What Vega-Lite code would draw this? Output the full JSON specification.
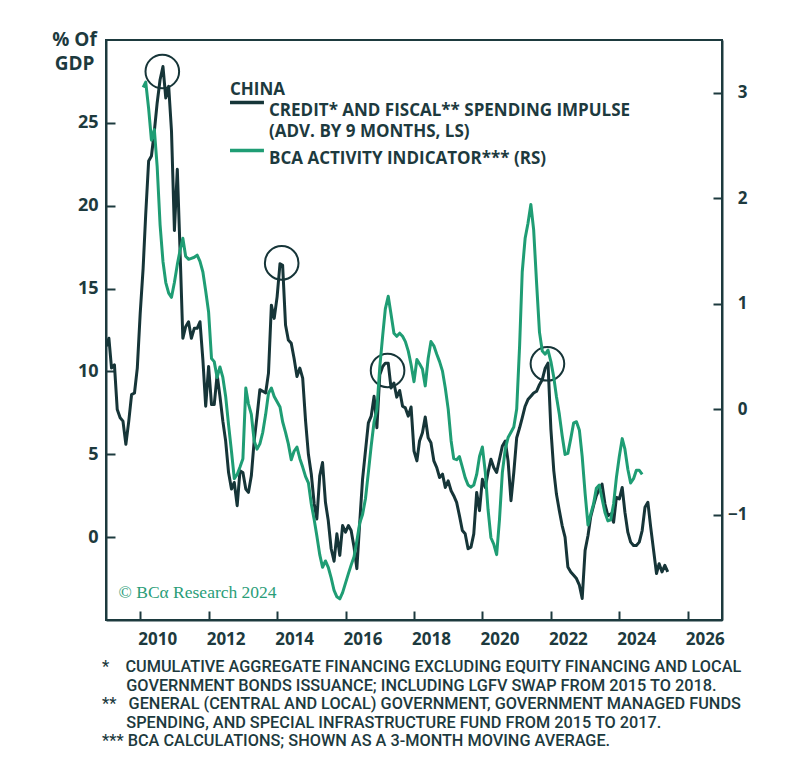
{
  "$schema": "https://vega.github.io/schema/vega-lite/v6.json",
  "width": 616,
  "height": 580,
  "autosize": {"type": "none"},
  "padding": {"left": 106, "top": 40, "right": 78, "bottom": 140},
  "background": "white",
  "config": {
    "font": "Open Sans",
    "view": {"stroke": "#1d3a3e", "strokeWidth": 2},
    "axis": {"domainColor": "#1d3a3e", "domainWidth": 2, "tickColor": "#1d3a3e", "tickWidth": 2, "labelColor": "#1d3a3e", "labelFont": "Open Sans", "labelFontWeight": "bold", "grid": false}
  },
  "title": {
    "text": [
      "*\u00a0\u00a0\u00a0\u00a0CUMULATIVE AGGREGATE FINANCING EXCLUDING EQUITY FINANCING AND LOCAL",
      "\u200b\u00a0\u00a0\u00a0\u00a0\u00a0\u00a0GOVERNMENT BONDS ISSUANCE; INCLUDING LGFV SWAP FROM 2015 TO 2018.",
      "**\u00a0\u00a0\u00a0GENERAL (CENTRAL AND LOCAL) GOVERNMENT, GOVERNMENT MANAGED FUNDS",
      "\u200b\u00a0\u00a0\u00a0\u00a0\u00a0\u00a0SPENDING, AND SPECIAL INFRASTRUCTURE FUND FROM 2015 TO 2017.",
      "***\u00a0BCA CALCULATIONS; SHOWN AS A 3-MONTH MOVING AVERAGE."
    ],
    "orient": "bottom", "anchor": "start", "frame": "group", "align": "left",
    "font": "Roboto", "fontSize": 16.3, "fontWeight": 500, "color": "#1d3a3e",
    "lineHeight": 18.5, "offset": 12, "dx": -4
  },
  "datasets": {
    "credit": [
      {"d":"2009-01","v":11.5},{"d":"2009-02","v":12.0},{"d":"2009-03","v":10.2},{"d":"2009-04","v":10.4},{"d":"2009-05","v":7.7},{"d":"2009-06","v":7.2},{"d":"2009-07","v":7.0},{"d":"2009-08","v":5.6},{"d":"2009-09","v":7.0},{"d":"2009-10","v":8.6},{"d":"2009-11","v":8.7},{"d":"2009-12","v":10.2},
      {"d":"2010-01","v":13.5},{"d":"2010-02","v":16.2},{"d":"2010-03","v":19.5},{"d":"2010-04","v":22.7},{"d":"2010-05","v":23.0},{"d":"2010-06","v":24.5},{"d":"2010-07","v":26.2},{"d":"2010-08","v":27.6},{"d":"2010-09","v":28.4},{"d":"2010-10","v":26.5},{"d":"2010-11","v":27.2},{"d":"2010-12","v":24.5},
      {"d":"2011-01","v":18.5},{"d":"2011-02","v":22.2},{"d":"2011-03","v":17.5},{"d":"2011-04","v":12.0},{"d":"2011-05","v":12.7},{"d":"2011-06","v":13.0},{"d":"2011-07","v":12.0},{"d":"2011-08","v":12.6},{"d":"2011-09","v":12.6},{"d":"2011-10","v":13.0},{"d":"2011-11","v":10.7},{"d":"2011-12","v":7.9},
      {"d":"2012-01","v":10.3},{"d":"2012-02","v":8.0},{"d":"2012-03","v":8.0},{"d":"2012-04","v":9.8},{"d":"2012-05","v":8.5},{"d":"2012-06","v":7.0},{"d":"2012-07","v":5.8},{"d":"2012-08","v":3.9},{"d":"2012-09","v":2.9},{"d":"2012-10","v":3.3},{"d":"2012-11","v":1.9},{"d":"2012-12","v":4.0},
      {"d":"2013-01","v":3.9},{"d":"2013-02","v":2.9},{"d":"2013-03","v":2.7},{"d":"2013-04","v":3.7},{"d":"2013-05","v":5.8},{"d":"2013-06","v":7.3},{"d":"2013-07","v":8.9},{"d":"2013-08","v":8.8},{"d":"2013-09","v":8.7},{"d":"2013-10","v":9.9},{"d":"2013-11","v":14.0},{"d":"2013-12","v":13.2},
      {"d":"2014-01","v":14.5},{"d":"2014-02","v":16.5},{"d":"2014-03","v":16.4},{"d":"2014-04","v":12.8},{"d":"2014-05","v":11.9},{"d":"2014-06","v":11.7},{"d":"2014-07","v":10.8},{"d":"2014-08","v":9.7},{"d":"2014-09","v":10.2},{"d":"2014-10","v":9.6},{"d":"2014-11","v":7.0},{"d":"2014-12","v":5.0},
      {"d":"2015-01","v":3.8},{"d":"2015-02","v":2.0},{"d":"2015-03","v":1.1},{"d":"2015-04","v":3.7},{"d":"2015-05","v":4.5},{"d":"2015-06","v":2.1},{"d":"2015-07","v":1.0},{"d":"2015-08","v":-0.7},{"d":"2015-09","v":-1.45},{"d":"2015-10","v":0.2},{"d":"2015-11","v":-1.1},{"d":"2015-12","v":0.7},
      {"d":"2016-01","v":0.3},{"d":"2016-02","v":0.7},{"d":"2016-03","v":0.4},{"d":"2016-04","v":-0.6},{"d":"2016-05","v":-1.9},{"d":"2016-06","v":0.9},{"d":"2016-07","v":3.5},{"d":"2016-08","v":5.2},{"d":"2016-09","v":6.9},{"d":"2016-10","v":7.3},{"d":"2016-11","v":8.5},{"d":"2016-12","v":6.6},
      {"d":"2017-01","v":9.8},{"d":"2017-02","v":10.3},{"d":"2017-03","v":10.5},{"d":"2017-04","v":10.5},{"d":"2017-05","v":9.0},{"d":"2017-06","v":9.3},{"d":"2017-07","v":8.45},{"d":"2017-08","v":8.85},{"d":"2017-09","v":7.9},{"d":"2017-10","v":7.8},{"d":"2017-11","v":7.3},{"d":"2017-12","v":7.85},
      {"d":"2018-01","v":5.2},{"d":"2018-02","v":4.6},{"d":"2018-03","v":5.8},{"d":"2018-04","v":6.3},{"d":"2018-05","v":7.25},{"d":"2018-06","v":6.0},{"d":"2018-07","v":5.7},{"d":"2018-08","v":4.6},{"d":"2018-09","v":4.2},{"d":"2018-10","v":3.6},{"d":"2018-11","v":3.8},{"d":"2018-12","v":3.0},
      {"d":"2019-01","v":3.4},{"d":"2019-02","v":2.8},{"d":"2019-03","v":2.5},{"d":"2019-04","v":2.1},{"d":"2019-05","v":1.3},{"d":"2019-06","v":0.4},{"d":"2019-07","v":0.2},{"d":"2019-08","v":-0.7},{"d":"2019-09","v":-0.6},{"d":"2019-10","v":0.2},{"d":"2019-11","v":2.7},{"d":"2019-12","v":1.6},
      {"d":"2020-01","v":3.5},{"d":"2020-02","v":3.0},{"d":"2020-03","v":3.9},{"d":"2020-04","v":4.7},{"d":"2020-05","v":4.2},{"d":"2020-06","v":3.9},{"d":"2020-07","v":4.7},{"d":"2020-08","v":5.5},{"d":"2020-09","v":5.8},{"d":"2020-10","v":4.6},{"d":"2020-11","v":2.2},{"d":"2020-12","v":3.9},
      {"d":"2021-01","v":6.0},{"d":"2021-02","v":6.6},{"d":"2021-03","v":7.2},{"d":"2021-04","v":7.9},{"d":"2021-05","v":8.3},{"d":"2021-06","v":8.5},{"d":"2021-07","v":8.7},{"d":"2021-08","v":8.8},{"d":"2021-09","v":9.2},{"d":"2021-10","v":9.5},{"d":"2021-11","v":10.2},{"d":"2021-12","v":10.5},
      {"d":"2022-01","v":6.5},{"d":"2022-02","v":4.0},{"d":"2022-03","v":2.6},{"d":"2022-04","v":1.6},{"d":"2022-05","v":0.7},{"d":"2022-06","v":0.0},{"d":"2022-07","v":-1.8},{"d":"2022-08","v":-2.1},{"d":"2022-09","v":-2.3},{"d":"2022-10","v":-2.5},{"d":"2022-11","v":-2.9},{"d":"2022-12","v":-3.7},
      {"d":"2023-01","v":-0.8},{"d":"2023-02","v":0.1},{"d":"2023-03","v":1.2},{"d":"2023-04","v":1.9},{"d":"2023-05","v":2.5},{"d":"2023-06","v":2.9},{"d":"2023-07","v":3.2},{"d":"2023-08","v":2.0},{"d":"2023-09","v":1.3},{"d":"2023-10","v":1.4},{"d":"2023-11","v":0.9},{"d":"2023-12","v":2.4},
      {"d":"2024-01","v":2.3},{"d":"2024-02","v":3.0},{"d":"2024-03","v":1.5},{"d":"2024-04","v":0.3},{"d":"2024-05","v":-0.3},{"d":"2024-06","v":-0.5},{"d":"2024-07","v":-0.5},{"d":"2024-08","v":-0.3},{"d":"2024-09","v":0.4},{"d":"2024-10","v":1.8},{"d":"2024-11","v":2.1},{"d":"2024-12","v":0.6},
      {"d":"2025-01","v":-0.8},{"d":"2025-02","v":-2.2},{"d":"2025-03","v":-1.6},{"d":"2025-04","v":-2.1},{"d":"2025-05","v":-1.7},{"d":"2025-06","v":-2.1}
    ],
    "activity": [
      {"d":"2010-02","v":3.05},{"d":"2010-03","v":3.1},{"d":"2010-04","v":2.85},{"d":"2010-05","v":2.55},{"d":"2010-06","v":2.65},{"d":"2010-07","v":2.3},{"d":"2010-08","v":1.75},{"d":"2010-09","v":1.4},{"d":"2010-10","v":1.2},{"d":"2010-11","v":1.1},{"d":"2010-12","v":1.06},
      {"d":"2011-01","v":1.2},{"d":"2011-02","v":1.37},{"d":"2011-03","v":1.5},{"d":"2011-04","v":1.62},{"d":"2011-05","v":1.45},{"d":"2011-06","v":1.42},{"d":"2011-07","v":1.43},{"d":"2011-08","v":1.44},{"d":"2011-09","v":1.46},{"d":"2011-10","v":1.4},{"d":"2011-11","v":1.3},{"d":"2011-12","v":1.12},
      {"d":"2012-01","v":0.92},{"d":"2012-02","v":0.48},{"d":"2012-03","v":0.45},{"d":"2012-04","v":0.3},{"d":"2012-05","v":0.4},{"d":"2012-06","v":0.3},{"d":"2012-07","v":0.12},{"d":"2012-08","v":-0.15},{"d":"2012-09","v":-0.4},{"d":"2012-10","v":-0.66},{"d":"2012-11","v":-0.62},{"d":"2012-12","v":-0.55},
      {"d":"2013-01","v":-0.47},{"d":"2013-02","v":0.2},{"d":"2013-03","v":0.05},{"d":"2013-04","v":-0.05},{"d":"2013-05","v":-0.3},{"d":"2013-06","v":-0.38},{"d":"2013-07","v":-0.33},{"d":"2013-08","v":-0.22},{"d":"2013-09","v":-0.05},{"d":"2013-10","v":0.15},{"d":"2013-11","v":0.2},{"d":"2013-12","v":0.12},
      {"d":"2014-01","v":0.07},{"d":"2014-02","v":0.02},{"d":"2014-03","v":-0.12},{"d":"2014-04","v":-0.22},{"d":"2014-05","v":-0.33},{"d":"2014-06","v":-0.48},{"d":"2014-07","v":-0.4},{"d":"2014-08","v":-0.36},{"d":"2014-09","v":-0.47},{"d":"2014-10","v":-0.55},{"d":"2014-11","v":-0.64},{"d":"2014-12","v":-0.7},
      {"d":"2015-01","v":-0.9},{"d":"2015-02","v":-1.05},{"d":"2015-03","v":-1.2},{"d":"2015-04","v":-1.38},{"d":"2015-05","v":-1.5},{"d":"2015-06","v":-1.44},{"d":"2015-07","v":-1.5},{"d":"2015-08","v":-1.6},{"d":"2015-09","v":-1.72},{"d":"2015-10","v":-1.78},{"d":"2015-11","v":-1.8},{"d":"2015-12","v":-1.74},
      {"d":"2016-01","v":-1.65},{"d":"2016-02","v":-1.56},{"d":"2016-03","v":-1.48},{"d":"2016-04","v":-1.4},{"d":"2016-05","v":-1.25},{"d":"2016-06","v":-1.08},{"d":"2016-07","v":-1.0},{"d":"2016-08","v":-0.85},{"d":"2016-09","v":-0.6},{"d":"2016-10","v":-0.35},{"d":"2016-11","v":-0.12},{"d":"2016-12","v":0.0},
      {"d":"2017-01","v":0.4},{"d":"2017-02","v":0.7},{"d":"2017-03","v":0.95},{"d":"2017-04","v":1.07},{"d":"2017-05","v":0.9},{"d":"2017-06","v":0.72},{"d":"2017-07","v":0.69},{"d":"2017-08","v":0.72},{"d":"2017-09","v":0.69},{"d":"2017-10","v":0.64},{"d":"2017-11","v":0.55},{"d":"2017-12","v":0.42},
      {"d":"2018-01","v":0.26},{"d":"2018-02","v":0.47},{"d":"2018-03","v":0.43},{"d":"2018-04","v":0.38},{"d":"2018-05","v":0.22},{"d":"2018-06","v":0.48},{"d":"2018-07","v":0.64},{"d":"2018-08","v":0.6},{"d":"2018-09","v":0.52},{"d":"2018-10","v":0.45},{"d":"2018-11","v":0.36},{"d":"2018-12","v":0.2},
      {"d":"2019-01","v":0.0},{"d":"2019-02","v":-0.3},{"d":"2019-03","v":-0.47},{"d":"2019-04","v":-0.48},{"d":"2019-05","v":-0.45},{"d":"2019-06","v":-0.55},{"d":"2019-07","v":-0.65},{"d":"2019-08","v":-0.72},{"d":"2019-09","v":-0.74},{"d":"2019-10","v":-0.72},{"d":"2019-11","v":-0.62},{"d":"2019-12","v":-0.45},
      {"d":"2020-01","v":-0.36},{"d":"2020-02","v":-0.6},{"d":"2020-03","v":-0.95},{"d":"2020-04","v":-1.22},{"d":"2020-05","v":-1.28},{"d":"2020-06","v":-1.38},{"d":"2020-07","v":-1.05},{"d":"2020-08","v":-0.6},{"d":"2020-09","v":-0.38},{"d":"2020-10","v":-0.27},{"d":"2020-11","v":-0.22},{"d":"2020-12","v":-0.17},
      {"d":"2021-01","v":0.0},{"d":"2021-02","v":0.6},{"d":"2021-03","v":1.3},{"d":"2021-04","v":1.62},{"d":"2021-05","v":1.76},{"d":"2021-06","v":1.94},{"d":"2021-07","v":1.7},{"d":"2021-08","v":1.2},{"d":"2021-09","v":0.73},{"d":"2021-10","v":0.55},{"d":"2021-11","v":0.52},{"d":"2021-12","v":0.56},
      {"d":"2022-01","v":0.45},{"d":"2022-02","v":0.3},{"d":"2022-03","v":0.12},{"d":"2022-04","v":-0.05},{"d":"2022-05","v":-0.25},{"d":"2022-06","v":-0.43},{"d":"2022-07","v":-0.42},{"d":"2022-08","v":-0.28},{"d":"2022-09","v":-0.13},{"d":"2022-10","v":-0.12},{"d":"2022-11","v":-0.2},{"d":"2022-12","v":-0.45},
      {"d":"2023-01","v":-0.8},{"d":"2023-02","v":-1.1},{"d":"2023-03","v":-1.0},{"d":"2023-04","v":-0.9},{"d":"2023-05","v":-0.75},{"d":"2023-06","v":-0.72},{"d":"2023-07","v":-0.85},{"d":"2023-08","v":-0.98},{"d":"2023-09","v":-1.06},{"d":"2023-10","v":-1.05},{"d":"2023-11","v":-0.9},{"d":"2023-12","v":-0.65},
      {"d":"2024-01","v":-0.45},{"d":"2024-02","v":-0.28},{"d":"2024-03","v":-0.38},{"d":"2024-04","v":-0.57},{"d":"2024-05","v":-0.7},{"d":"2024-06","v":-0.66},{"d":"2024-07","v":-0.58},{"d":"2024-08","v":-0.58},{"d":"2024-09","v":-0.62}
    ],
    "circles": [
      {"d":"2010-08-25","v":28.1},{"d":"2014-02-19","v":16.55},{"d":"2017-03-25","v":10.06},{"d":"2021-11-25","v":10.46}
    ],
    "notes": [
      {"d":"2009-05-15","v":-3.65,"label":"© BCα Research 2024"}
    ]
  },
  "resolve": {"scale": {"y": "independent", "color": "shared"}},
  "layer": [
    {
      "layer": [
        {
          "data": {"name": "credit"},
          "mark": {"type": "line", "strokeWidth": 3, "strokeJoin": "round", "clip": true},
          "encoding": {
            "x": {"field": "d", "type": "temporal",
              "scale": {"type": "utc", "domain": [{"year": 2009, "month": 1, "date": 1, "utc": true}, {"year": 2027, "month": 1, "date": 1, "utc": true}]},
              "axis": {
                "title": null,
                "values": [{"year":2010,"utc":true},{"year":2011,"utc":true},{"year":2012,"utc":true},{"year":2013,"utc":true},{"year":2014,"utc":true},{"year":2015,"utc":true},{"year":2016,"utc":true},{"year":2017,"utc":true},{"year":2018,"utc":true},{"year":2019,"utc":true},{"year":2020,"utc":true},{"year":2021,"utc":true},{"year":2022,"utc":true},{"year":2023,"utc":true},{"year":2024,"utc":true},{"year":2025,"utc":true},{"year":2026,"utc":true}],
                "labelExpr": "utcyear(datum.value) % 2 === 0 ? utcFormat(datum.value, '%Y') : ''",
                "labelOffset": 17, "tickSize": -9, "labelPadding": 20, "labelFontSize": 17,
                "labelOverlap": false, "labelBound": false, "labelFlush": false
              }},
            "y": {"field": "v", "type": "quantitative",
              "scale": {"domain": [-5, 30], "nice": false, "zero": false},
              "axis": {
                "values": [0, 5, 10, 15, 20, 25], "tickSize": -9, "labelPadding": 17, "labelFontSize": 18,
                "title": ["% Of", "GDP"], "titleAngle": 0, "titleAlign": "center", "titleBaseline": "top",
                "titleX": -32, "titleY": -10, "titleFontSize": 19, "titleFontWeight": "bold", "titleColor": "#1d3a3e", "titleLineHeight": 24, "titleFont": "Open Sans"
              }},
            "color": {"datum": "credit", "type": "nominal",
              "scale": {"domain": ["credit", "activity"], "range": ["#163538", "#1f9d74"]},
              "legend": {
                "title": "CHINA", "orient": "none", "legendX": 124, "legendY": 42,
                "titleFontSize": 17, "titleFontWeight": "bold", "titleColor": "#1d3a3e", "titleFont": "Open Sans", "titlePadding": -5,
                "labelFontSize": 17, "labelFontWeight": "bold", "labelColor": "#1d3a3e", "labelFont": "Open Sans", "labelLimit": 600,
                "labelExpr": "datum.value == 'credit' ? ['CREDIT* AND FISCAL** SPENDING IMPULSE', '(ADV. BY 9 MONTHS, LS)'] : 'BCA ACTIVITY INDICATOR*** (RS)'",
                "labelBaseline": "top", "labelOffset": 22,
                "symbolType": "M-1.5,0H4.5", "symbolSize": 128, "symbolStrokeWidth": 3.5, "rowPadding": 2,
                "encode": {"labels": {"update": {"lineHeight": {"value": 21}}}}
              }}
          }
        },
        {
          "data": {"name": "circles"},
          "mark": {"type": "point", "shape": "circle", "filled": false, "opacity": 1, "size": 1130, "stroke": "#163538", "strokeWidth": 2},
          "encoding": {
            "x": {"field": "d", "type": "temporal"},
            "y": {"field": "v", "type": "quantitative"}
          }
        },
        {
          "data": {"name": "notes"},
          "mark": {"type": "text", "align": "left", "baseline": "alphabetic", "font": "Liberation Serif", "fontSize": 17.5, "color": "#2a9d78"},
          "encoding": {
            "x": {"field": "d", "type": "temporal"},
            "y": {"field": "v", "type": "quantitative"},
            "text": {"field": "label"}
          }
        }
      ]
    },
    {
      "data": {"name": "activity"},
      "mark": {"type": "line", "strokeWidth": 3, "strokeJoin": "round"},
      "encoding": {
        "x": {"field": "d", "type": "temporal"},
        "y": {"field": "v", "type": "quantitative",
          "scale": {"domain": [-2, 3.5], "nice": false, "zero": false},
          "axis": {"orient": "right", "values": [-1, 0, 1, 2, 3], "tickSize": -9, "labelPadding": 34, "labelAlign": "right", "labelFontSize": 17, "title": null}},
        "color": {"datum": "activity", "type": "nominal"}
      }
    }
  ]
}
